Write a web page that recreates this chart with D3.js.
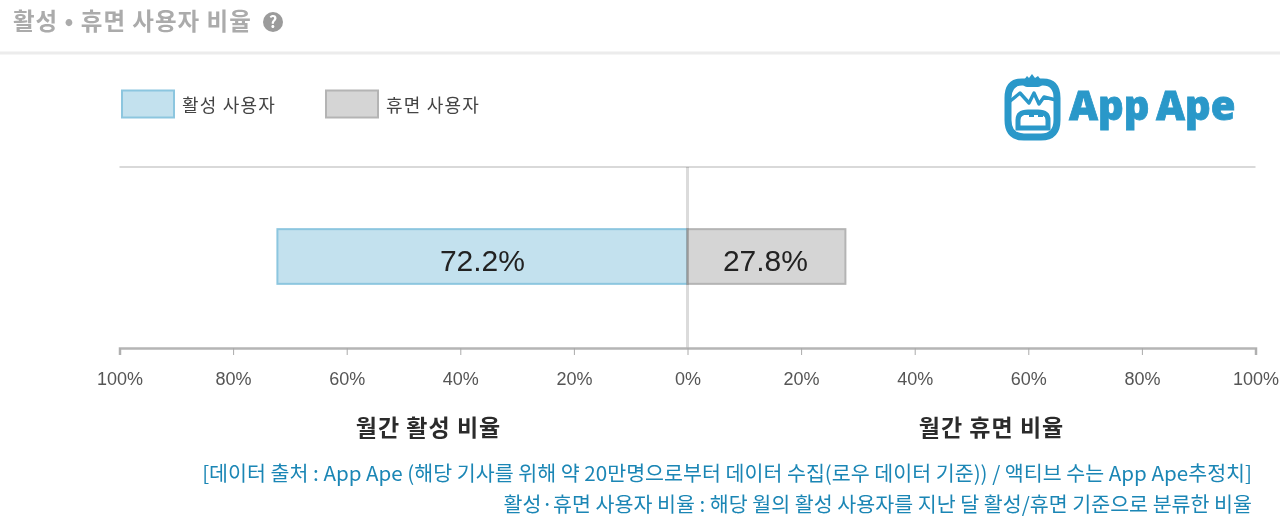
<!DOCTYPE html>
<html>
<head>
<meta charset="utf-8">
<script src="https://cdn.jsdelivr.net/npm/d3@7"></script>
<style>
html,body{margin:0;padding:0;background:#fff;}
svg{display:block;filter:blur(0.45px);}
text{font-family:"Noto Sans CJK KR",sans-serif;}
</style>
</head>
<body>
<div id="chart"></div>
<script>
const titleText = "활성 • 휴면 사용자 비율";
const legendLabels = ["활성 사용자", "휴면 사용자"];
const barNames = ["활성", "휴면"];
const barValues = [-72.2, 27.8];
const barLabels = ["72.2%", "27.8%"];
const tickValues = [-100, -80, -60, -40, -20, 0, 20, 40, 60, 80, 100];
const sideTitles = ["월간 활성 비율", "월간 휴면 비율"];
const sideTitleAt = [-50, 50];
const notes = [
  "[데이터 출처 : App Ape (해당 기사를 위해 약 20만명으로부터 데이터 수집(로우 데이터 기준)) / 액티브 수는 App Ape추정치]",
  "활성·휴면 사용자 비율 : 해당 월의 활성 사용자를 지난 달 활성/휴면 기준으로 분류한 비율"
];
const fills = ["#c3e1ee", "#d5d5d5"];
const strokes = ["#8cc6df", "#b4b4b4"];

const width = 1280, height = 527;
const svg = d3.select("#chart").append("svg").attr("width", width).attr("height", height);

// header
svg.append("text").attr("x", 13).attr("y", 30)
  .attr("font-size", 23.5).attr("font-weight", 700).attr("fill", "#ababab")
  .attr("letter-spacing", 1)
  .text(titleText);
svg.append("circle").attr("cx", 273).attr("cy", 22).attr("r", 10).attr("fill", "#9b9b9b");
svg.append("text").attr("x", 273).attr("y", 28).attr("text-anchor", "middle")
  .attr("font-size", 16).attr("font-weight", 700).attr("fill", "#fff").text("?");
svg.append("line").attr("x1", 0).attr("x2", width).attr("y1", 53).attr("y2", 53)
  .attr("stroke", "#ececec").attr("stroke-width", 3);

// legend
const legendX = [122, 326];
legendLabels.forEach((d, i) => {
  svg.append("rect").attr("x", legendX[i]).attr("y", 90.5).attr("width", 52).attr("height", 27)
    .attr("fill", fills[i]).attr("stroke", strokes[i]).attr("stroke-width", 2);
  svg.append("text").attr("x", legendX[i] + 60).attr("y", 112)
    .attr("font-size", 18).attr("fill", "#444").attr("letter-spacing", 1.2).text(d);
});

// scales
const x = d3.scaleLinear().domain([-100, 100]).range([119.5, 1255.5]);
const y = d3.scaleBand().domain(["월간"]).range([167, 346]).padding(0.532);

// top rule
svg.append("line").attr("x1", x(-100)).attr("x2", x(100)).attr("y1", 167).attr("y2", 167)
  .attr("stroke", "#d9d9d9").attr("stroke-width", 2);

// bars
const bars = svg.append("g").selectAll("g").data(barValues).enter().append("g");
bars.append("rect")
  .attr("x", d => x(Math.min(0, d)))
  .attr("y", y("월간"))
  .attr("width", d => Math.abs(x(d) - x(0)))
  .attr("height", y.bandwidth())
  .attr("fill", (d, i) => fills[i])
  .attr("stroke", (d, i) => strokes[i])
  .attr("stroke-width", 2);
bars.append("text")
  .attr("x", d => x(d / 2) + (d < 0 ? 0 : -1))
  .attr("y", y("월간") + y.bandwidth() / 2 + 14)
  .attr("text-anchor", "middle")
  .attr("font-size", 30)
  .attr("fill", "#222")
  .style("font-family", "Arial,'Liberation Sans',sans-serif")
  .text((d, i) => barLabels[i]);

// centre line
svg.append("line").attr("x1", x(0)).attr("x2", x(0)).attr("y1", 167).attr("y2", 348)
  .attr("stroke", "#000").attr("stroke-opacity", 0.14).attr("stroke-width", 3);

// axis
const axis = svg.append("g").attr("transform", "translate(0,348)")
  .call(d3.axisBottom(x).tickValues(tickValues).tickSize(7).tickSizeOuter(7).tickPadding(17)
    .tickFormat(d => Math.abs(d) + "%"));
axis.select(".domain").attr("stroke", "#b5b5b5").attr("stroke-width", 2.5);
axis.selectAll(".tick line").attr("stroke", "#aaa");
axis.selectAll(".tick text").attr("font-size", 18).attr("fill", "#555")
  .style("font-family", "Arial,'Liberation Sans',sans-serif");

// side titles
svg.append("g").selectAll("text").data(sideTitles).enter().append("text")
  .attr("x", (d, i) => x(sideTitleAt[i]) + (i ? 20 : 25))
  .attr("y", 436)
  .attr("text-anchor", "middle")
  .attr("font-size", 23).attr("font-weight", 700).attr("fill", "#2b2b2b")
  .attr("letter-spacing", 1)
  .text(d => d);

// notes
svg.append("g").selectAll("text").data(notes).enter().append("text")
  .attr("x", 1252)
  .attr("y", (d, i) => 481 + i * 31)
  .attr("text-anchor", "end")
  .attr("font-size", 20.6).attr("fill", "#1b86b5")
  .text(d => d);

// logo
const logoColor = "#2a98c9";
const logo = svg.append("g").attr("transform", "translate(1000,70)");
logo.append("path").attr("fill", "none").attr("stroke", logoColor).attr("stroke-width", 7)
  .attr("d", "M22,12 H43 Q57,12 57,28 V50 Q57,67 41,67 H24 Q8,67 8,50 V28 Q8,12 22,12 Z");
logo.append("path").attr("fill", logoColor)
  .attr("d", "M20,10 H46 Q42,17 38,17 H27 Q23,17 20,10 Z");
logo.append("path").attr("fill", logoColor)
  .attr("d", "M24,10 L27,6 L29,8 L32,4 L35,8 L38,6 L41,10 Z");
logo.append("path").attr("fill", "none").attr("stroke", logoColor).attr("stroke-width", 3.4)
  .attr("stroke-linejoin", "round")
  .attr("d", "M9,32 L20,23 L29,33 L34,23 L39,34 L44,27 L56,30");
logo.append("path").attr("fill", "none").attr("stroke", logoColor).attr("stroke-width", 5)
  .attr("d", "M18,58 V50 Q18,42 28,42 H38 Q48,42 48,50 V58 Z");
logo.append("path").attr("fill", logoColor)
  .attr("d", "M24,42 H43 V47 H38 V45 H34 V47 H29 V45 H24 Z");
svg.append("text").attr("x", 1069).attr("y", 120)
  .attr("font-size", 40).attr("font-weight", 800).attr("fill", logoColor)
  .attr("stroke", logoColor).attr("stroke-width", 0.8)
  .attr("word-spacing", -4)
  .style("font-family", "'Open Sans',sans-serif")
  .text("App Ape");
</script>
</body>
</html>
